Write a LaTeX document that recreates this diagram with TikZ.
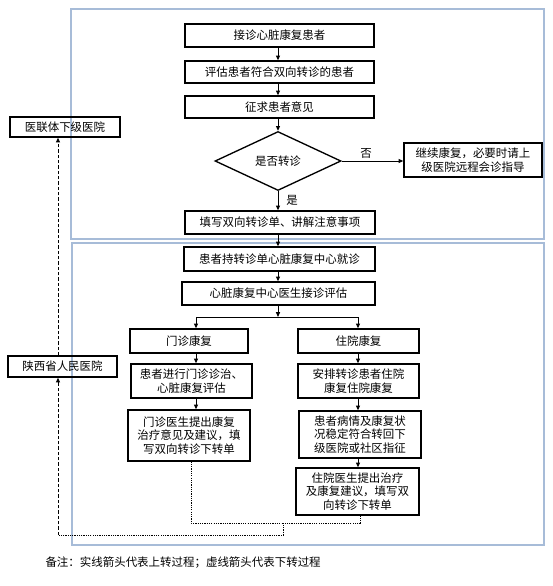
\documentclass[tikz,border=0pt]{standalone}
\usepackage{fontspec}
\setmainfont{Noto Sans CJK SC}
\usetikzlibrary{arrows.meta,shapes.geometric}

\tikzset{every picture/.style={line width=0.75pt}}
\tikzset{
  stepbox/.style={draw, line width=1pt, inner sep=0pt, align=center, font=\fontsize{8.6}{10}\selectfont},
  wh/.style 2 args={minimum width=#1*0.75pt, minimum height=#2*0.75pt},
  framebox/.style={draw={rgb, 255:red, 167; green, 188; blue, 216}, line width=0.9pt},
  txt/.style={inner sep=0.75pt, font=\fontsize{8.6}{10}\selectfont},
  uparrow/.style={-{Triangle[length=3.6pt,width=3pt]}},
  downline/.style={dash pattern=on 0.9pt off 0.8pt},
  downlong/.style={dash pattern=on 2.4pt off 1.6pt},
}

\begin{document}
\begin{tikzpicture}[x=0.75pt,y=0.75pt,yscale=-1,xscale=1]
\useasboundingbox (0,0) rectangle (553,586);

%Shape: Rectangle (upper frame)
\draw [framebox] (71,9) rectangle (544,239);
%Shape: Rectangle (lower frame)
\draw [framebox] (72,243) rectangle (544,545);

% Steps, upper part
\node [stepbox, wh={189}{23}] (jiezhen) at (279.5,35.5) {接诊心脏康复患者};
\node [stepbox, wh={189}{22}] (pinggu) at (279.5,72) {评估患者符合双向转诊的患者};
\node [stepbox, wh={189}{22}] (zhengqiu) at (279.5,107) {征求患者意见};
\node [draw, diamond, line width=1pt, inner sep=0pt, wh={126}{59}, font=\fontsize{8.6}{10}\selectfont] (zhuanzhen) at (278,161) {是否转诊};
\node [stepbox, wh={138}{34}] (jixu) at (473,160) {继续康复，必要时请上\\级医院远程会诊指导};
\node [stepbox, wh={190}{23}] (tianxie) at (280,222.5) {填写双向转诊单、讲解注意事项};

% Steps, lower part
\node [stepbox, wh={191}{24}] (jiuzhen) at (279.5,259) {患者持转诊单心脏康复中心就诊};
\node [stepbox, wh={193}{23}] (zhongxin) at (278.5,293.5) {心脏康复中心医生接诊评估};
\node [stepbox, wh={118}{24}] (menzhen) at (189,341) {门诊康复};
\node [stepbox, wh={121}{24}] (zhuyuan) at (358.5,341) {住院康复};
\node [stepbox, wh={121}{34}] (menzhenpg) at (191.5,381) {患者进行门诊诊治、\\心脏康复评估};
\node [stepbox, wh={121}{34}] (zhuyuanap) at (358.5,381) {安排转诊患者住院\\康复住院康复};
\node [stepbox, wh={122}{51}] (menzhenys) at (189,435.5) {门诊医生提出康复\\治疗意见及建议，填\\写双向转诊下转单};
\node [stepbox, wh={122}{47}] (bingqing) at (360,434.5) {患者病情及康复状\\况稳定符合转回下\\级医院或社区指征};
\node [stepbox, wh={123}{47}] (zhuyuanys) at (357.5,491.5) {住院医生提出治疗\\及康复建议，填写双\\向转诊下转单};

% Hospitals
\node [stepbox, wh={110}{20}] (xiaji) at (65,127) {医联体下级医院};
\node [stepbox, wh={109}{21}] (shengyi) at (62.5,366.5) {陕西省人民医院};

% Text Node
\node [txt] (fou) at (366,153) {否};
% Text Node
\node [txt] (shi) at (292,200) {是};
% Text Node
\node [txt, anchor=west] (beizhu) at (44,563) {备注：实线箭头代表上转过程；虚线箭头代表下转过程};

% Points for the branches
\coordinate (fork) at (278,317);
\coordinate (lcol) at (196,317);
\coordinate (rcol) at (358,317);
\coordinate (dl) at (191,523);
\coordinate (dr) at (360,523);
\coordinate (mid) at (283,523);
\coordinate (bot) at (283,535);
\coordinate (lft) at (58,535);

%Straight Lines (solid arrows)
\draw [uparrow] (jiezhen.south -| zhuanzhen) -- (pinggu.north -| zhuanzhen);
\draw [uparrow] (pinggu.south -| zhuanzhen) -- (zhengqiu.north -| zhuanzhen);
\draw [uparrow] (zhengqiu.south -| zhuanzhen) -- (zhuanzhen.north);
\draw [uparrow] (zhuanzhen.east) -- (zhuanzhen.east -| jixu.west);
\draw [uparrow] (zhuanzhen.south) -- (tianxie.north -| zhuanzhen);
\draw [uparrow] (tianxie.south -| zhuanzhen) -- (jiuzhen.north -| zhuanzhen);
\draw [uparrow] (jiuzhen.south -| zhuanzhen) -- (zhongxin.north -| zhuanzhen);
\draw [uparrow] (zhongxin.south -| fork) -- (fork);
\draw [uparrow] (fork) -| (menzhen.north -| lcol);
\draw [uparrow] (fork) -| (zhuyuan.north -| rcol);
\draw [uparrow] (menzhen.south -| lcol) -- (menzhenpg.north -| lcol);
\draw [uparrow] (menzhenpg.south -| lcol) -- (menzhenys.north -| lcol);
\draw [uparrow] (zhuyuan.south -| rcol) -- (zhuyuanap.north -| rcol);
\draw [uparrow] (zhuyuanap.south -| rcol) -- (bingqing.north -| rcol);
\draw [uparrow] (bingqing.south -| rcol) -- (zhuyuanys.north -| rcol);

%Straight Lines (dashed arrows)
\draw [downline] (menzhenys.south -| dl) -- (dl) -- (mid);
\draw [downline] (zhuyuanys.south -| dr) -- (dr) -- (mid) -- (bot) -- (lft);
\draw [downlong, uparrow] (lft) -- (lft |- shengyi.south);
\draw [downlong, uparrow] (shengyi.north -| lft) -- (lft |- xiaji.south);

\end{tikzpicture}
\end{document}
